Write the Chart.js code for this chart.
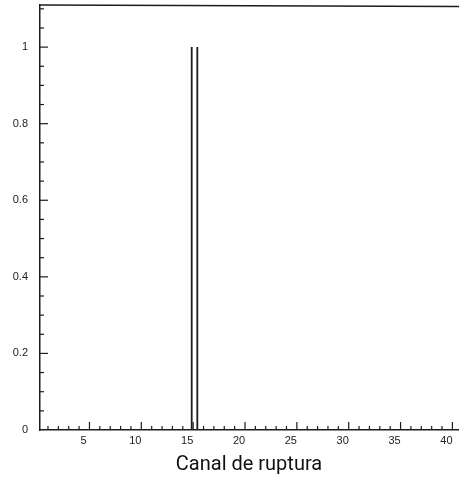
<!DOCTYPE html>
<html>
<head>
<meta charset="utf-8">
<script src="https://cdn.jsdelivr.net/npm/chart.js@4/dist/chart.umd.min.js"></script>
<style>
  html, body { margin: 0; padding: 0; background: #fff; }
  #wrap { width: 459px; height: 479px; }
</style>
</head>
<body>
<div id="wrap"><canvas id="histChart"></canvas></div>
<script>
// histogram: one bin between these edges, with this height
var binEdges = [14.86, 15.4];
var binHeights = [1];

var xTickLabels = [5, 10, 15, 20, 25, 30, 35, 40];
var yTickLabels = [0, 0.2, 0.4, 0.6, 0.8, 1];

var xMin = 0.23, xMax = 40.54;
var yMin = 0, yMax = 1.11;

// only the two vertical sides of the bin are drawn
var points = [
  { x: binEdges[0], y: 0 },
  { x: binEdges[0], y: binHeights[0] },
  { x: (binEdges[0] + binEdges[1]) / 2, y: null },
  { x: binEdges[1], y: binHeights[0] },
  { x: binEdges[1], y: 0 }
];

var ink = "#1c1c1c";

// ticks pointing into the plot, plus the line along the top
var innerTicks = {
  id: "innerTicks",
  afterDraw: function (chart) {
    var c = chart.ctx, a = chart.chartArea;
    var xs = chart.scales.x, ys = chart.scales.y;
    c.save();
    c.strokeStyle = ink;
    c.lineWidth = 1.5;
    c.beginPath();
    c.moveTo(a.left, a.top);
    c.lineTo(a.right + 1, a.top + 1.5);
    c.stroke();
    c.lineWidth = 1.2;
    for (var v = 1; v <= 40; v++) {
      var px = xs.getPixelForValue(v);
      var len = v % 5 === 0 ? 8 : 4;
      c.beginPath();
      c.moveTo(px, a.bottom);
      c.lineTo(px, a.bottom - len);
      c.stroke();
    }
    for (var k = 1; k <= 22; k++) {
      var val = k * 0.05;
      var py = ys.getPixelForValue(val);
      var l2 = k % 4 === 0 ? 8 : 4;
      c.beginPath();
      c.moveTo(a.left, py);
      c.lineTo(a.left + l2, py);
      c.stroke();
    }
    c.restore();
  }
};

var ctx = document.getElementById("histChart").getContext("2d");
var histChart = new Chart(ctx, {
  type: "line",
  data: {
    datasets: [{
      data: points,
      borderColor: ink,
      borderWidth: 1.8,
      pointRadius: 0,
      spanGaps: false,
      tension: 0,
      fill: false
    }]
  },
  options: {
    responsive: true,
    maintainAspectRatio: false,
    animation: false,
    layout: { padding: { top: 5, right: 1, left: 0, bottom: 0 } },
    plugins: {
      legend: { display: false },
      tooltip: { enabled: false }
    },
    scales: {
      x: {
        type: "linear",
        min: xMin,
        max: xMax,
        afterBuildTicks: function (scale) {
          scale.ticks = xTickLabels.map(function (v) { return { value: v }; });
        },
        afterFit: function (scale) {
          scale.height = 49;
          scale.paddingLeft = 0;
          scale.paddingRight = 0;
        },
        grid: { display: false, drawTicks: false },
        border: { display: true, color: ink, width: 1.5 },
        ticks: {
          padding: 4,
          labelOffset: -6,
          maxRotation: 0,
          color: "#222",
          font: { family: "Liberation Sans", size: 11 },
          callback: function (v) { return String(v); }
        },
        title: {
          display: true,
          text: "Canal de ruptura",
          color: "#111",
          font: { family: "Roboto", size: 20 },
          padding: { top: 0, bottom: 2 }
        }
      },
      y: {
        type: "linear",
        min: yMin,
        max: yMax,
        afterBuildTicks: function (scale) {
          scale.ticks = yTickLabels.map(function (v) { return { value: v }; });
        },
        afterFit: function (scale) {
          scale.width = 40;
          scale.paddingTop = 0;
          scale.paddingBottom = 0;
        },
        grid: { display: false, drawTicks: false },
        border: { display: true, color: ink, width: 1.5 },
        ticks: {
          padding: 12,
          color: "#222",
          font: { family: "Liberation Sans", size: 11 },
          callback: function (v) { return String(Math.round(v * 10) / 10); }
        }
      }
    }
  },
  plugins: [innerTicks]
});
</script>
</body>
</html>
